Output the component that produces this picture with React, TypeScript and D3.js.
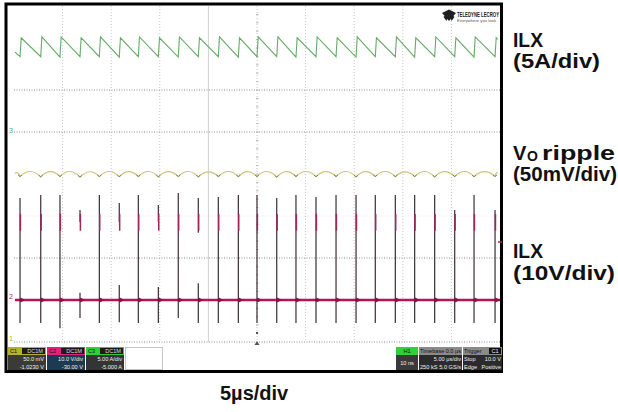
import React from 'react'
import * as d3 from 'd3'

// switching edges, µs from the left graticule edge (5 µs/div)
const edgeTimes = [0.62, 2.75, 4.73, 6.79, 8.78, 10.83, 12.79, 14.85, 16.9, 18.96, 21.02, 23.08, 25.0,
    27.03, 29.01, 31.07, 33.13, 35.19, 37.17, 39.23, 41.22, 43.28, 45.34, 47.33, 49.49]

// C3 inductor current, A (5 A/div)
const ilxPeak = [11.1, 11.2, 11.2, 11.1, 11.2, 11.1, 11.2, 11.1, 11.2, 11.1, 11.2, 11.1, 11.2,
    11.2, 11.1, 11.2, 11.1, 11.2, 11.1, 11.2, 11.1, 11.2, 11.1, 11.2, 11.1]
const ilxValley = [8.85, 8.85, 8.8, 8.85, 8.85, 8.8, 8.85, 8.85, 8.8, 8.85, 8.85, 8.8, 8.85,
    8.85, 8.8, 8.85, 8.85, 8.8, 8.85, 8.85, 8.8, 8.85, 8.85, 8.8, 8.85]
const ilxEnds = [9.4, 10.9]

// C1 output ripple, mV about screen centre (50 mV/div)
const rippleDip = [-3.0, -3.4, -3.0, -3.6, -3.0, -3.2, -3.0, -3.4, -3.0, -3.4, -3.0, -3.2, -3.0,
    -3.6, -3.0, -3.2, -3.0, -3.4, -3.0, -3.2, -3.0, -3.4, -3.0, -3.2, -3.0]
const rippleTop = [1.4, 3.0, 2.8, 3.0, 2.6, 3.0, 2.8, 3.0, 2.8, 3.0, 2.6, 3.0, 2.8,
    3.0, 2.8, 3.0, 2.8, 3.0, 2.8, 3.0, 2.6, 3.0, 2.8, 3.0, 2.8, 1.2]
const rippleEnds = [0.8, 1.0]

// C2 switch node, V (10 V/div)
const swTop = [24.3, 25.0, 25.0, 21.4, 25.0, 23.1, 25.0, 22.6, 25.5, 24.3, 24.5, 25.0, 25.0,
    24.3, 25.0, 24.5, 25.0, 25.0, 25.0, 25.0, 25.0, 25.0, 21.4, 25.0, 21.4]
const swBottom = [-5.5, -5.5, -6.7, -4.3, -5.5, -5.3, -5.5, -5.5, -4.3, -5.5, -5.5, -5.5, -5.5,
    -5.5, -5.5, -5.5, -5.5, -5.5, -5.5, -5.5, -5.5, -5.5, -5.5, -5.5, -5.5]
// spikes drawn in two pieces: [end of upper piece, start of lower piece]
const swGaps: ([number, number] | null)[] = [null, null, null, [18.6, 1.7], null, [18.6, 3.6], null, [18.6, 3.1],
    null, [16.0, 4.0], null, null, null, null, null, null, null, null, null, null, null, null, null, null, null]

const leftBoxes = [
    { ch: 'C1', head: '#b4b22a', body: '#3a3a36', rows: ['50.0 mV', '-1.0230 V'] },
    { ch: 'C2', head: '#e0217a', body: '#1c3a52', rows: ['10.0 V/div', '-30.00 V'] },
    { ch: 'C3', head: '#2fcf3a', body: '#343434', rows: ['5.00 A/div', '-5.000 A'] },
]

// side labels with the widths they take in the source picture
const sideLabels = ['ILX', '(5A/div)', 'ripple', '(50mV/div)', 'ILX', '(10V/div)']
const sideWidths = [30, 87, 73, 104, 30, 102]

const gx0 = 14, gx1 = 500, gy0 = 6, gy1 = 342
const onTime = 0.12
const traceSpan = [0.1, 49.75]

const x = d3.scaleLinear().domain([0, 50]).range([gx0, gx1])
const yC3 = d3.scaleLinear().domain([0, 5]).range([131, 89])
const yC1 = d3.scaleLinear().domain([0, 50]).range([174, 132])
const yC2 = d3.scaleLinear().domain([0, 10]).range([300, 258])

const font = 'Liberation Sans, Arial, sans-serif'

const App = () => {
    const ilxPts: [number, number][] = [[traceSpan[0], ilxEnds[0]]]
    edgeTimes.forEach((t, i) => {
        ilxPts.push([t, ilxValley[i]])
        ilxPts.push([t + onTime, ilxPeak[i]])
    })
    ilxPts.push([traceSpan[1], ilxEnds[1]])
    const ilxLine = d3.line<[number, number]>().x(d => x(d[0])).y(d => yC3(d[1]))

    const dips: [number, number][] = [[traceSpan[0], rippleEnds[0]],
        ...edgeTimes.map((t, i) => [t, rippleDip[i]] as [number, number]),
        [traceSpan[1], rippleEnds[1]]]
    const rp = d3.path()
    rp.moveTo(x(dips[0][0]), yC1(dips[0][1]))
    for (let i = 1; i < dips.length; i++) {
        const x0 = x(dips[i - 1][0]), x1 = x(dips[i][0])
        const y0 = yC1(dips[i - 1][1]), y1 = yC1(dips[i][1])
        const yc = 2 * yC1(rippleTop[i - 1]) - (y0 + y1) / 2
        rp.quadraticCurveTo((x0 + x1) / 2, yc, x1, y1)
    }

    const xs = d3.range(1, 10).map(k => gx0 + k * (gx1 - gx0) / 10)
    const ys = d3.range(1, 8).map(k => gy0 + k * (gy1 - gy0) / 8)
    const strongRows = [2, 3, 6]
    const ticks = d3.range(1, 40).map(k => gy0 + k * (gy1 - gy0) / 40)

    const label = (i: number, lx: number, ly: number) => (
        <text x={lx} y={ly} textLength={sideWidths[i]} lengthAdjust="spacingAndGlyphs">{sideLabels[i]}</text>
    )

    return (
        <svg width={618} height={412} style={{ position: 'absolute', left: 0, top: 0, background: '#fff' }}>
            <rect x={6} y={4} width={495.5} height={367.5} fill="#fff" stroke="#000" strokeWidth={3} />

            {xs.map((gx, k) => (
                <line key={'v' + k} x1={gx} x2={gx} y1={gy0} y2={gy1}
                    stroke={k === 3 ? '#d0d0d0' : '#c8c8c8'} strokeWidth={1}
                    strokeDasharray={k === 3 ? undefined : '1 2'} />
            ))}
            {ys.map((gy, k) => (
                <line key={'h' + k} x1={gx0} x2={gx1} y1={gy} y2={gy}
                    stroke={strongRows.includes(k + 1) ? '#8e8e8e' : '#ececec'} strokeWidth={1}
                    strokeDasharray="1 1.5" />
            ))}
            <line x1={gx0} x2={gx1} y1={gy1} y2={gy1} stroke="#8e8e8e" strokeDasharray="1 1.5" />
            {ticks.map((ty, k) => (
                <line key={'t' + k} x1={256} x2={258.5} y1={ty} y2={ty} stroke="#b8b8b8" />
            ))}

            {/* C2 switch node */}
            <line x1={x(traceSpan[0])} x2={gx1} y1={yC2(0)} y2={yC2(0)} stroke="#b2145e" strokeWidth={2.4} />
            {edgeTimes.map((t, i) => {
                const ex = x(t)
                const g = swGaps[i]
                const y0 = yC2(0)
                return (
                    <g key={'s' + i}>
                        {g ? (
                            <>
                                <line x1={ex} x2={ex} y1={yC2(swTop[i])} y2={yC2(g[0])} stroke="#3b2c33" strokeWidth={1.2} />
                                <line x1={ex} x2={ex} y1={yC2(g[1])} y2={yC2(swBottom[i])} stroke="#3b2c33" strokeWidth={1.2} />
                            </>
                        ) : (
                            <line x1={ex} x2={ex} y1={yC2(swTop[i])} y2={yC2(swBottom[i])} stroke="#3b2c33" strokeWidth={1.2} />
                        )}
                        <line x1={ex + 0.4} x2={ex + 0.4} y1={yC2(20.5)} y2={yC2(16.5)} stroke="#a3245e" strokeWidth={1.5} />
                        <path d={`M${ex - 0.5},${y0} L${ex + 0.5},${y0 - 2.4} L${ex + 5},${y0} L${ex + 0.5},${y0 + 2.4}Z`} fill="#8e1048" />
                    </g>
                )
            })}

            {/* C1 ripple */}
            <path d={rp.toString()} fill="none" stroke="#c8c77a" strokeWidth={1.1} />
            {edgeTimes.map((t, i) => (
                <path key={'d' + i} d={`M${x(t) - 2},${yC1(rippleDip[i]) - 1.6} L${x(t)},${yC1(rippleDip[i])} L${x(t) + 2},${yC1(rippleDip[i]) - 1.6}`}
                    fill="none" stroke="#85844c" strokeWidth={1} />
            ))}

            {/* C3 inductor current */}
            <path d={ilxLine(ilxPts)!} fill="none" stroke="#67aa67" strokeWidth={1.1} />

            {/* channel markers */}
            <text x={9} y={133} fontSize={7} fill="#4caf50" fontFamily={font}>3</text>
            <text x={9} y={299} fontSize={7} fill="#c2185b" fontFamily={font}>2</text>
            <text x={9} y={341} fontSize={7} fill="#b5b12a" fontFamily={font}>1</text>
            <line x1={498} x2={502} y1={242} y2={242} stroke="#c2185b" strokeWidth={1.5} />
            <rect x={256} y={332} width={2} height={2} fill="#555" />
            <path d="M254.5,345 L259.5,345 L257,341 Z" fill="#555" />

            {/* logo */}
            <g fill="#1e1e1e">
                <path d="M442,13 L449,9.5 L449,21 Z M456,13 L449,9.5 L449,21 Z M443.5,17 L449,12 L446.5,21 Z M454.5,17 L449,12 L451.5,21 Z" />
            </g>
            <text x={457} y={16.5} fontSize={7} fontWeight="bold" fontFamily={font} fill="#222" textLength={42} lengthAdjust="spacingAndGlyphs">TELEDYNE LECROY</text>
            <text x={457} y={21.5} fontSize={4.2} fontFamily={font} fill="#555" textLength={39} lengthAdjust="spacingAndGlyphs">Everywhere you look</text>

            {/* info bar, left */}
            {leftBoxes.map((b, i) => {
                const bx = 8 + i * 39
                return (
                    <g key={b.ch} fontFamily={font} fontSize={5.6}>
                        <rect x={bx} y={347} width={38} height={8} fill={b.head} />
                        <rect x={bx + 14} y={348} width={23} height={6} fill="#1b1b1b" />
                        <text x={bx + 2} y={353.3} fill="#111">{b.ch}</text>
                        <text x={bx + 35} y={353.3} fill="#ddd" textAnchor="end">DC1M</text>
                        <rect x={bx} y={355} width={38} height={15} fill={b.body} />
                        <text x={bx + 36} y={361.2} fill="#eee" textAnchor="end">{b.rows[0]}</text>
                        <text x={bx + 36} y={368.5} fill="#eee" textAnchor="end">{b.rows[1]}</text>
                    </g>
                )
            })}
            <rect x={125.5} y={347.5} width={37} height={22} fill="none" stroke="#888" strokeDasharray="1 1" />

            {/* info bar, right */}
            <g fontFamily={font} fontSize={5.6}>
                <rect x={396} y={347} width={22} height={8} fill="#2fd13a" />
                <text x={407} y={353.3} fill="#111" textAnchor="middle">H1</text>
                <rect x={396} y={355} width={22} height={15} fill="#3a3a3a" />
                <text x={407} y={364.5} fill="#eee" textAnchor="middle">10 ns</text>

                <rect x={419} y={347} width={43} height={8} fill="#8a8a8a" />
                <text x={420} y={353.3} fill="#111">Timebase</text>
                <text x={461} y={353.3} fill="#111" textAnchor="end">0.0 µs</text>
                <rect x={419} y={355} width={43} height={15} fill="#2b2b2b" />
                <text x={461} y={361.2} fill="#eee" textAnchor="end">5.00 µs/div</text>
                <text x={420} y={368.5} fill="#eee">250 kS</text>
                <text x={461} y={368.5} fill="#eee" textAnchor="end">5.0 GS/s</text>

                <rect x={463} y={347} width={39} height={8} fill="#8a8a8a" />
                <text x={464} y={353.3} fill="#111">Trigger</text>
                <rect x={489} y={348} width={12} height={6} fill="#111" />
                <text x={495} y={353.3} fill="#eee" textAnchor="middle">C1</text>
                <rect x={463} y={355} width={39} height={15} fill="#2b2b2b" />
                <text x={464} y={361.2} fill="#eee">Stop</text>
                <text x={501} y={361.2} fill="#eee" textAnchor="end">10.0 V</text>
                <text x={464} y={368.5} fill="#eee">Edge</text>
                <text x={501} y={368.5} fill="#eee" textAnchor="end">Positive</text>
            </g>

            {/* annotations */}
            <g fontFamily={font} fontWeight="bold" fontSize={20} fill="#111">
                {label(0, 513, 47)}
                {label(1, 513, 68)}
                <text x={513} y={160}>V</text>
                <text x={527} y={161} fontSize={14}>O</text>
                {label(2, 542, 160)}
                {label(3, 513, 181)}
                {label(4, 513, 258)}
                {label(5, 513, 280)}
                <text x={220} y={400}>5µs/div</text>
            </g>
        </svg>
    )
}

export default App
